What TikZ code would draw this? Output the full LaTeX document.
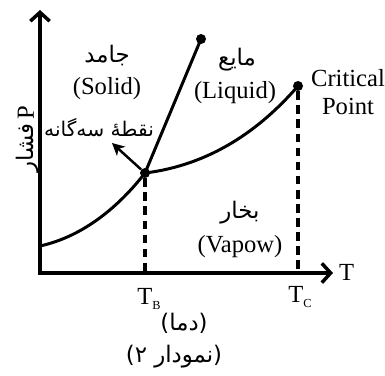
\documentclass[tikz,border=0pt]{standalone}
\usepackage{fontspec}
\setmainfont{Liberation Serif}
\newfontfamily\fafont[Script=Arabic]{DejaVu Sans}
\TeXXeTstate=1
\usetikzlibrary{arrows.meta}

\tikzset{
  axis/.style={line width=2pt, line join=miter,
    {Straight Barb[length=5pt,width=11pt]}-{Straight Barb[length=5pt,width=11pt]}},
  curve/.style={line width=1.7pt},
  guide/.style={line width=1.8pt, dash pattern=on 5pt off 3pt},
  dot/.style={circle, fill=black, inner sep=0pt, minimum size=0.2cm},
  lbl/.style={font=\fontsize{14}{16}\selectfont, inner sep=1pt, align=center},
  fa/.style={font=\fafont\fontsize{13}{15}\selectfont, inner sep=1pt},
}

\begin{document}
\begin{tikzpicture}[x=0.02cm, y=-0.02cm]
        \useasboundingbox (0,0) rectangle (385,375);
        % ---- axes ----
        \coordinate (O) at (40,273);
        \coordinate (ytip) at (40,10);
        \coordinate (xtip) at (333,273);
        \draw[axis] (ytip) -- (O) -- (xtip);
        \node[lbl, anchor=west] (Tax) at (337,272) {T};
        \node[rotate=90, inner sep=1pt] (Pax) at (28,139)
            {{\fafont\fontsize{13}{15}\selectfont\beginR فشار\endR}\ {\fontsize{14}{16}\selectfont P}};
        % ---- special points ----
        \node[dot] (tp) at (145,173) {};
        \node[dot] (cp) at (298,86) {};
        \node[dot] (sl) at (201,39) {};
        % ---- phase boundaries ----
        \draw[curve] (40,246) .. controls (85,236) and (120,205) .. (tp.center);
        \draw[curve] (tp.center) .. controls (210,165) and (260,130) .. (cp.center);
        \draw[curve] (tp.center) -- (sl.center);
        % ---- guide lines ----
        \draw[guide] (tp) -- (tp |- O);
        \draw[guide] (cp) -- (cp |- O);
        \node[lbl] (TB) at (149,299) {T\raisebox{-0.45ex}{\fontsize{7}{8}\selectfont B}};
        \node[lbl] (TC) at (300,297) {T\raisebox{-0.45ex}{\fontsize{7}{8}\selectfont C}};
        % ---- triple point pointer ----
        \coordinate (tparrow) at (112,143);
        \draw[line width=1.4pt, -{Stealth[length=7pt,width=7pt,inset=2pt]}] (tp) -- (tparrow);
        \node[fa, font=\fafont\fontsize{11.5}{14}\selectfont, anchor=east] (tplbl) at (156,128) {\beginR نقطهٔ سه‌گانه\endR};
        % ---- phase regions ----
        \node[fa] (solidfa) at (107,55) {\beginR جامد\endR};
        \node[lbl] (solid) at (107,89) {(Solid)};
        \node[fa] (liquidfa) at (237,60) {\beginR مایع\endR};
        \node[lbl] (liquid) at (235,93) {(Liquid)};
        \node[fa] (vapourfa) at (240,213) {\beginR بخار\endR};
        \node[lbl] (vapour) at (240,247) {(Vapow)};
        \node[lbl] (cplbl) at (348,92) {Critical\\Point};
        % ---- captions ----
        \node[fa] (dama) at (184,323) {\beginR(دما)\endR};
        \node[fa] (cap) at (174,357) {\beginR(نمودار ۲)\endR};
    \end{tikzpicture}
\end{document}
